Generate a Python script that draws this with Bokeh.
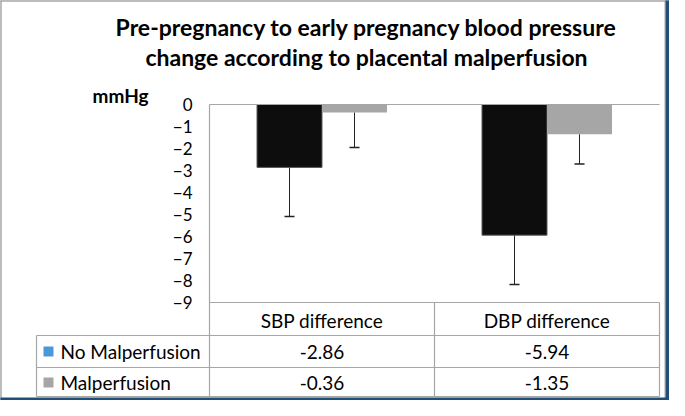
from bokeh.plotting import figure
from bokeh.models import (ColumnDataSource, FactorRange, Range1d, FixedTicker,
                          Whisker, TeeHead)
from bokeh.transform import dodge
from bokeh.core.properties import value
from bokeh.embed import file_html
from bokeh.resources import INLINE

# ---------------- data ----------------
categories = ["SBP difference", "DBP difference"]
series = ["No Malperfusion", "Malperfusion"]
no_malperfusion = [-2.86, -5.94]
malperfusion = [-0.36, -1.35]
no_malperfusion_err = [2.23, 2.24]
malperfusion_err = [1.59, 1.35]
y_ticks = [0, -1, -2, -3, -4, -5, -6, -7, -8, -9]
title_lines = ["Pre-pregnancy to early pregnancy blood pressure",
               "change according to placental malperfusion"]
unit_label = "mmHg"
series_colors = ["#0d0d0d", "#a6a6a6"]
legend_colors = ["#4a98d8", "#a6a6a6"]

FONT = "Lato"
W, H = 669, 400
FL, FR, FT, FB = 209, 659, 104, 302   # frame edges in canvas px

src = ColumnDataSource(dict(
    cat=categories,
    no=no_malperfusion,
    ma=malperfusion,
    no_low=[v - e for v, e in zip(no_malperfusion, no_malperfusion_err)],
    ma_low=[v - e for v, e in zip(malperfusion, malperfusion_err)],
    no_txt=["%.2f" % v for v in no_malperfusion],
    ma_txt=["%.2f" % v for v in malperfusion],
))

p = figure(width=W, height=H, output_backend="svg", toolbar_location=None,
           x_range=FactorRange(*categories, factor_padding=0, range_padding=0),
           y_range=Range1d(min(y_ticks), max(y_ticks)),
           min_border_left=FL, min_border_right=W - FR,
           min_border_top=FT, min_border_bottom=H - FB)
p.outline_line_color = None
p.grid.grid_line_color = None
p.background_fill_color = "white"
p.border_fill_color = "white"

# px -> data helpers for layout decorations (table, frame)
ux = (FR - FL) / 2.0
uy = (FB - FT) / (max(y_ticks) - min(y_ticks))
def sx(px):
    return (px - FL) / ux
def sy(py):
    return max(y_ticks) - (py - FT) / uy

# axes
p.yaxis.ticker = FixedTicker(ticks=y_ticks)
p.yaxis.axis_line_color = None
p.yaxis.major_tick_line_color = None
p.yaxis.minor_tick_line_color = None
p.yaxis.major_tick_out = 0
p.yaxis.major_tick_in = 0
p.yaxis.major_label_standoff = 17
p.yaxis.major_label_text_font = FONT
p.yaxis.major_label_text_font_size = "17px"
p.yaxis.major_label_text_color = "black"

p.xaxis.axis_line_color = None
p.xaxis.major_tick_line_color = None
p.xaxis.major_tick_out = 0
p.xaxis.major_tick_in = 0
p.xaxis.major_label_standoff = 6
p.xaxis.major_label_text_font = FONT
p.xaxis.major_label_text_font_size = "19px"
p.xaxis.major_label_text_color = "black"

# bars
bw = 65 / ux
off = bw / 2
p.vbar(x=dodge("cat", -off, range=p.x_range), top=0, bottom="no", width=bw,
       fill_color=series_colors[0], line_color="#5a5a5a", line_width=1, source=src)
p.vbar(x=dodge("cat", off, range=p.x_range), top=0, bottom="ma", width=bw,
       fill_color=series_colors[1], line_color=None, source=src)

# error bars (downward only)
for col, low, o in [("no", "no_low", -off), ("ma", "ma_low", off)]:
    w = Whisker(base=dodge("cat", o, range=p.x_range), upper=col, lower=low,
                source=src, line_color="#222222", line_width=1,
                upper_head=None,
                lower_head=TeeHead(size=10, line_color="#222222", line_width=1.5))
    p.add_layout(w)

# frame lines & table grid
grid_col = "#a6a6a6"
x0, xl, xm, xr = sx(36), sx(FL), sx(434), sx(FR)
yb, y1, y2, y3 = sy(FB), sy(335), sy(367), sy(396)
hx0 = [xl, xl, x0, x0, x0]
hx1 = [xr, xr, xr, xr, xr]
hy = [sy(FT), yb, y1, y2, y3]
p.segment(x0=hx0, y0=hy, x1=hx1, y1=hy, line_color=grid_col, line_width=1.2,
          level="overlay")
vx = [xl, x0, xm, xr]
vy0 = [sy(FT), y1, yb, yb]
vy1 = [y3, y3, y3, y3]
p.segment(x0=vx, y0=vy0, x1=vx, y1=vy1, line_color=grid_col, line_width=1.2,
          level="overlay")

# table values
row_y = [sy(351), sy(382)]
p.text(x="cat", y=row_y[0], text="no_txt", source=src, text_align="center",
       text_baseline="middle", text_font=value(FONT), text_font_size="19px",
       text_color="black", level="overlay")
p.text(x="cat", y=row_y[1], text="ma_txt", source=src, text_align="center",
       text_baseline="middle", text_font=value(FONT), text_font_size="19px",
       text_color="black", level="overlay")

# legend in table (swatches as short thick segments)
p.segment(x0=[sx(43)] * 2, y0=row_y, x1=[sx(53)] * 2, y1=row_y,
          line_color=legend_colors, line_width=10, line_cap="butt",
          level="overlay")
p.text(x=[sx(60)] * 2, y=row_y, text=series, text_align="left",
       text_baseline="middle", text_font=value(FONT), text_font_size="19px",
       text_color="black", level="overlay")

# title
p.text(x=[sx(366)] * 2, y=[sy(26), sy(56)], text=title_lines,
       text_align="center", text_baseline="middle", text_font=value(FONT),
       text_font_size="23px", text_font_style="bold", text_color="black",
       level="overlay")
p.text(x=[sx(92)], y=[sy(95)], text=[unit_label], text_align="left",
       text_baseline="middle", text_font=value(FONT), text_font_size="19px",
       text_font_style="bold", text_color="black", level="overlay")

# outer border
p.segment(x0=[sx(0.5), sx(0)], y0=[sy(0), sy(0.5)], x1=[sx(0.5), sx(W)],
          y1=[sy(H), sy(0.5)], line_color="#a6a6a6", line_width=1.5, level="overlay")
p.segment(x0=[sx(W - 4.5)], y0=[sy(0)], x1=[sx(W - 4.5)], y1=[sy(H)],
          line_color="#a6a6a6", line_width=1, level="overlay")
p.segment(x0=[sx(W - 2)], y0=[sy(0)], x1=[sx(W - 2)], y1=[sy(H)],
          line_color="#1f4e79", line_width=4, level="overlay")
p.segment(x0=[sx(0)], y0=[sy(H - 1.5)], x1=[sx(W)], y1=[sy(H - 1.5)],
          line_color="#1f4e79", line_width=3, level="overlay")

open("out.html", "w").write(file_html(p, INLINE))
